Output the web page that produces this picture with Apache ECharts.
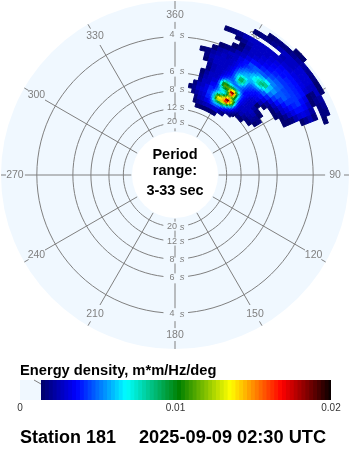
<!DOCTYPE html>
<html><head><meta charset="utf-8">
<style>html,body{margin:0;padding:0;background:#fff}#c{width:350px;height:450px}</style>
<script src="https://cdn.jsdelivr.net/npm/echarts@6/dist/echarts.min.js"></script>
</head><body><div id="c"></div>
<script>
const ringPeriods = [4, 6, 8, 12, 20];
const spokeAngles = [30, 60, 90, 120, 150, 210, 240, 270, 300, 330];
const colorStops = [[13.5,'#000070'],[35,'#0000ff'],[67,'#00ffff'],[101,'#008000'],[134,'#ffff00'],[167,'#ff0000'],[200,'#000000']];
const barLevels = [13.5,16,18.5,21,23.5,26,28.5,31,33.5,36,38.5,41,43.5,46,48.5,51,53.5,56,58.5,61,63.5,66,68.5,71,73.5,76,78.5,81,83.5,86,88.5,91,93.5,96,98.5,101,103.5,106,108.5,111,113.5,116,118.5,121,123.5,126,128.5,131,133.5,136,138.5,141,143.5,146,148.5,151,153.5,156,158.5,161,163.5,166,168.5,171,173.5,176,178.5,181,183.5,186,188.5,191,193.5,196,198.5];
const directions = [10,12.5,15,17.5,20,22.5,25,27.5,30,32.5,35,37.5,40,42.5,45,47.5,50,52.5,55,57.5,60,62.5,65,67.5,70];
const frequencies = [.10,.11,.12,.13,.14,.15,.16,.17,.18,.19,.20,.21,.22,.23,.24,.25,.26,.27,.28,.29,.30,.31,.32,.33];
// energy density x 1e-4, one row per direction, one column per frequency
const energy = [
[0,0,0,0,15,0,0,0,0,0,0,0,0,0,0,0,0,0,0,0,0,0,0,0],
[0,0,0,16,20,17,0,0,0,0,0,0,0,15,0,0,0,0,0,0,0,0,0,0],
[0,15,18,22,26,24,20,18,15,0,0,14,16,18,0,0,0,0,0,0,0,0,0,0],
[15,20,24,28,30,28,26,24,22,18,20,22,24,22,15,0,0,0,0,0,0,0,0,0],
[14,22,28,30,32,32,28,26,26,24,24,26,26,24,22,15,0,0,0,14,0,0,0,0],
[14,24,32,40,42,40,34,30,28,28,26,26,26,26,24,18,0,0,0,16,0,0,0,0],
[14,26,0,0,0,0,0,0,0,0,0,0,0,0,26,20,14,0,15,20,0,0,0,0],
[15,28,0,0,0,0,0,0,0,0,0,0,0,0,28,24,18,15,20,24,0,0,0,0],
[15,30,0,0,0,0,0,0,0,0,0,0,0,0,32,28,24,22,24,26,0,15,0,0],
[14,30,0,0,0,0,0,0,0,0,0,0,0,0,36,32,28,26,26,28,0,16,0,0],
[0,22,0,0,0,0,0,0,0,0,0,0,0,0,44,36,30,28,26,26,0,18,14,0],
[0,16,0,0,0,0,0,0,0,0,0,0,0,0,46,38,32,30,28,26,0,20,16,0],
[0,0,0,0,0,0,0,0,0,0,0,0,0,0,46,40,34,32,30,28,0,24,18,0],
[0,0,0,0,0,0,0,0,0,0,0,0,0,0,48,42,36,34,32,28,24,28,18,0],
[0,0,0,0,0,0,0,0,0,0,0,0,0,0,52,44,40,36,34,30,28,28,20,14],
[0,0,0,16,24,26,28,28,28,32,38,48,62,60,52,46,42,38,36,30,28,28,22,14],
[0,0,0,14,20,24,26,22,14,24,32,40,50,54,50,46,42,40,36,32,30,30,22,0],
[0,0,0,0,16,22,24,18,0,14,22,32,42,46,46,44,42,40,36,32,30,30,20,0],
[0,0,0,0,14,20,20,14,0,0,16,26,36,42,46,44,42,40,36,32,30,30,18,0],
[0,0,0,0,0,15,16,0,0,0,14,22,30,36,42,42,42,40,36,30,28,26,14,0],
[0,0,0,0,0,0,0,0,0,0,14,18,26,32,38,40,42,38,32,14,18,26,14,0],
[0,0,0,0,0,0,0,0,0,0,0,15,20,26,32,36,36,34,28,14,20,22,0,0],
[0,0,0,0,0,0,0,0,0,0,0,14,15,18,24,30,32,30,22,0,18,20,0,0],
[0,0,0,0,0,0,0,0,0,0,0,0,0,0,0,14,20,24,18,0,16,16,0,0],
[0,0,0,0,0,0,0,0,0,0,0,0,0,0,0,0,0,0,0,0,14,0,0,0]
];
const peakDirections = [24.375,25.625,26.875,28.125,29.375,30.625,31.875,33.125,34.375,35.625,36.875,38.125,39.375,40.625,41.875,43.125,44.375,45.625];
const peakFrequencies = [.1175,.1225,.1275,.1325,.1375,.1425,.1475,.1525,.1575,.1625,.1675,.1725,.1775,.1825,.1875,.1925,.1975,.2025,.2075,.2125,.2175,.2225,.2275,.2325];
const peakEnergy = [
[34,36,40,44,48,46,42,38,36,34,32,32,30,30,28,28,28,27,26,26,26,26,25,24],
[38,42,50,56,60,58,50,44,42,42,46,46,40,36,32,30,30,28,28,28,27,27,26,25],
[42,50,64,78,82,74,60,52,52,58,66,66,54,42,36,32,31,30,30,29,28,28,27,26],
[45,56,78,108,115,94,70,60,64,78,98,98,72,50,40,36,34,33,32,31,30,30,29,28],
[46,60,88,125,132,108,76,64,72,92,112,108,80,54,44,40,38,36,36,35,34,33,32,31],
[46,60,92,128,136,118,84,68,76,100,112,100,74,54,46,44,44,44,44,42,40,38,36,34],
[44,58,92,128,140,126,96,78,86,108,112,92,66,52,48,50,54,56,54,50,46,42,38,36],
[42,56,92,130,148,142,116,98,110,128,122,92,62,50,52,62,72,70,62,54,50,46,42,40],
[38,52,86,128,162,178,138,118,148,176,136,92,58,50,58,76,86,84,70,58,54,50,46,42],
[34,46,76,118,160,188,146,122,156,184,138,90,56,50,62,80,90,88,72,60,56,52,48,44],
[30,40,62,98,136,152,130,112,128,142,112,80,54,50,58,72,80,78,68,60,58,56,50,46],
[26,34,50,76,112,130,118,98,100,100,86,66,50,46,50,58,62,62,60,60,62,60,56,50],
[22,30,40,58,86,106,98,78,72,68,60,52,44,42,44,48,50,52,56,60,66,66,60,54],
[20,26,34,44,58,68,62,54,50,48,44,42,38,38,40,42,44,48,54,62,70,72,66,58],
[16,22,28,34,40,42,42,40,38,36,36,36,36,36,38,40,42,46,54,66,76,78,72,60],
[14,18,22,26,30,32,32,32,32,32,32,32,34,34,36,38,40,44,54,68,82,84,76,62],
[0,14,18,22,26,28,28,28,30,30,30,30,30,32,34,36,38,42,52,64,78,88,82,66],
[0,0,15,18,22,24,26,26,28,28,28,28,28,30,32,34,36,40,48,58,70,82,82,68]
];
const font = '"Liberation Sans",Arial,sans-serif';
const GREY = '#808080', DISC = '#f0f8ff';
const rHz = r => (r - 29.25) / 435;
const hex = s => [1,3,5].map(i => parseInt(s.substr(i,2),16));
function colorOf(v){
  const q = 13.5 + Math.floor((v-13.5)/2.5)*2.5;
  for(let i=1;i<colorStops.length;i++){
    if(q<=colorStops[i][0]){
      const [a,ca]=colorStops[i-1],[b,cb]=colorStops[i],t=Math.max(0,(q-a)/(b-a));
      const A=hex(ca),B=hex(cb);
      return 'rgb('+A.map((x,k)=>Math.round(x+(B[k]-x)*t)).join(',')+')';
    }
  }
  return '#000';
}
const heatData = [];
directions.forEach((d,i)=>frequencies.forEach((f,j)=>{ if(energy[i][j]>0) heatData.push([f,d,energy[i][j],.005,1.25]); }));
peakDirections.forEach((d,i)=>peakFrequencies.forEach((f,j)=>{ if(peakEnergy[i][j]>0) heatData.push([f,d,peakEnergy[i][j],.0025,.625]); }));
const spokeData = spokeAngles.concat([0,180]);
const chart = echarts.init(document.getElementById('c'),null,{renderer:'canvas'});
const line = (pts)=>({type:'polyline',shape:{points:pts},style:{stroke:GREY,lineWidth:1,fill:null},silent:true});
function arcPts(api,f,a,b){const p=[];for(let i=0;i<=48;i++)p.push(api.coord([f,a+(b-a)*i/48]));return p;}
const txt=(t,x,y,fnt)=>({type:'text',style:{text:t,x:x,y:y,font:fnt,fill:GREY,align:'center',verticalAlign:'middle'}});
chart.setOption({
  animation:false,
  polar:{center:[175,175],radius:[43,174]},
  angleAxis:{type:'value',min:0,max:360,startAngle:90,clockwise:true,show:false},
  radiusAxis:{type:'value',min:.03,max:.3328,show:false},
  grid:{left:20,top:380,width:311,height:20},
  xAxis:{type:'value',min:0,max:0.02,interval:0.01,axisLine:{show:false},axisTick:{show:false},splitLine:{show:false},
    axisLabel:{color:'#333',fontSize:10,fontFamily:font,margin:3,hideOverlap:false,showMinLabel:true,showMaxLabel:true}},
  yAxis:{type:'value',min:0,max:1,show:false},
  graphic:[
    {type:'text',left:20,top:363,style:{text:'Energy density, m*m/Hz/deg',font:'bold 14.7px '+font,fill:'#000'}},
    {type:'text',left:20,top:429,style:{text:'Station 181',font:'bold 18px '+font,fill:'#000'}},
    {type:'text',left:139,top:429,style:{text:'2025-09-09 02:30 UTC',font:'bold 18.2px '+font,fill:'#000'}},
    {type:'text',z:50,x:175,y:147,style:{text:'Period',font:'bold 14.5px '+font,fill:'#000',align:'center'}},
    {type:'text',z:50,x:175,y:163,style:{text:'range:',font:'bold 14.5px '+font,fill:'#000',align:'center'}},
    {type:'text',z:50,x:175,y:183,style:{text:'3-33 sec',font:'bold 14.5px '+font,fill:'#000',align:'center'}},
    {type:'line',z:50,shape:{x1:34,y1:380,x2:41,y2:384},style:{stroke:GREY,lineWidth:1}}
  ],
  series:[
    {type:'custom',coordinateSystem:'polar',z:1,silent:true,data:[[0,0]],clip:false,
     renderItem:(p)=>{const c=p.coordSys;return {type:'circle',shape:{cx:c.cx,cy:c.cy,r:c.r},style:{fill:DISC}};}},
    {type:'custom',name:'rings',coordinateSystem:'polar',z:2,silent:true,data:ringPeriods.map(T=>[1/T,0,T]),clip:false,
     renderItem:(p,api)=>{
       const T=api.value(2),f=1/T,c=p.coordSys,R=29.25+435*f;
       const a=Math.asin(13/R)*180/Math.PI,b=Math.asin(11.5/R)*180/Math.PI;
       return {type:'group',children:[
         line(arcPts(api,f,a,180-a)),
         line(arcPts(api,f,180+b,360-b)),
         txt(String(T),172,c.cy-R-2,'9px '+font),
         txt('s',182,c.cy-R-2,'italic 9.5px '+font),
         txt(String(T),172,c.cy+R+1,'9px '+font),
         txt('s',182,c.cy+R+1,'italic 9.5px '+font)
       ]};
     }},
    {type:'custom',name:'spokes',coordinateSystem:'polar',z:2,silent:true,data:spokeData.map(a=>[.1,a]),clip:false,
     renderItem:(p,api)=>{
       const a=api.value(1);
       const segs=(a===0||a===180)?[[43,46],[55,62],[70,82],[88,98],[108,133],[146,153],[166,174]]:[[43,150],[169,174]];
       const kids=segs.map(s=>line([api.coord([rHz(s[0]),a]),api.coord([rHz(s[1]),a])]));
       const q=api.coord([rHz(160),a]);
       kids.push(txt(a===0?'360':String(a),q[0],q[1],'10.5px '+font));
       return {type:'group',children:kids};
     }},
    {type:'custom',name:'energy',coordinateSystem:'polar',z:3,silent:true,data:heatData,clip:false,
     renderItem:(p,api)=>{
       const f=api.value(0),d=api.value(1),v=api.value(2),df=api.value(3),dd=api.value(4);
       const pts=[api.coord([f-df,d-dd]),api.coord([f+df,d-dd]),api.coord([f+df,d+dd]),api.coord([f-df,d+dd])];
       const col=colorOf(v);
       return {type:'polygon',shape:{points:pts},style:{fill:col,stroke:col,lineWidth:1}};
     }},
    {type:'custom',coordinateSystem:'polar',z:4,silent:true,data:[[0,0]],clip:false,
     renderItem:(p)=>{const c=p.coordSys;return {type:'circle',shape:{cx:c.cx,cy:c.cy,r:c.r0},style:{fill:'#fff'}};}},
    {type:'custom',name:'colorbar',coordinateSystem:'cartesian2d',z:3,silent:true,data:[[-1]].concat(barLevels.map((l,i)=>[i])),
     renderItem:(p,api)=>{
       const i=api.value(0);
       const lo=i<0?0:barLevels[i], hi=i<0?barLevels[0]:(i+1<barLevels.length?barLevels[i+1]:200);
       const a=api.coord([lo*1e-4,1]),b=api.coord([hi*1e-4,0]);
       const col=i<0?DISC:colorOf(lo+.01);
       return {type:'rect',shape:{x:a[0],y:a[1],width:b[0]-a[0]+(i+1<barLevels.length?1:0),height:b[1]-a[1]},style:{fill:col}};
     }}
  ]
});
</script></body></html>
